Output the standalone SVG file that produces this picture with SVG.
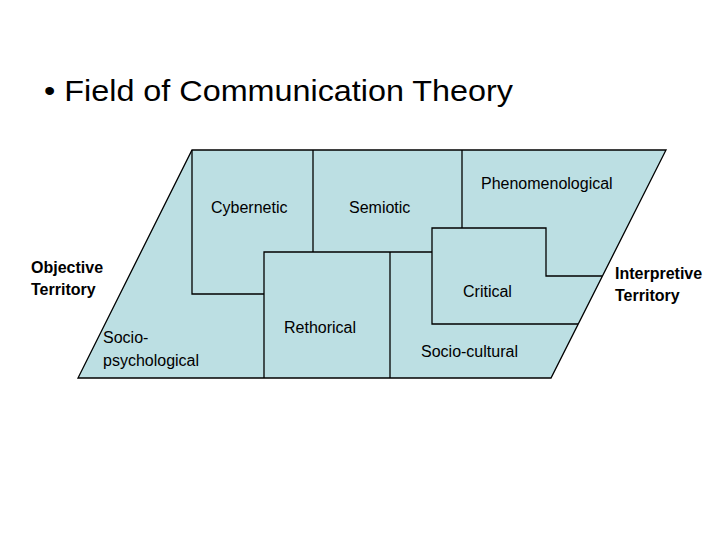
<svg xmlns="http://www.w3.org/2000/svg" width="720" height="540" viewBox="0 0 720 540">
<style>
text{font-family:"Liberation Sans",Arial,sans-serif;fill:#000}
.l{font-size:16px}
.b{font-size:16px;font-weight:bold}
.ln{stroke:#000;stroke-width:1.3;fill:none}
</style>
<rect width="720" height="540" fill="#fff"/>
<text x="44" y="101" style="font-size:30px" textLength="469" lengthAdjust="spacingAndGlyphs">• Field of Communication Theory</text>
<g id="field">
<polygon points="192,150 666,150 551,378 78,378" fill="#bcdfe3" stroke="#000" stroke-width="1.3"/>
</g>
<g id="connectors" class="ln">
<polyline points="192,150 192,294 264,294"/>
<line x1="313" y1="150" x2="313" y2="252"/>
<polyline points="264,378 264,252 432,252"/>
<line x1="390" y1="252" x2="390" y2="378"/>
<line x1="462" y1="150" x2="462" y2="228"/>
<polyline points="602,276 546,276 546,228 432,228 432,324 578,324"/>
</g>
<g id="cybernetic"><text class="l" x="211" y="213">Cybernetic</text></g>
<g id="semiotic"><text class="l" x="349" y="213">Semiotic</text></g>
<g id="phenomenological"><text class="l" x="481" y="189">Phenomenological</text></g>
<g id="critical"><text class="l" x="463" y="297">Critical</text></g>
<g id="rethorical"><text class="l" x="284" y="333">Rethorical</text></g>
<g id="sociocultural"><text class="l" x="421" y="357">Socio-cultural</text></g>
<g id="sociopsych"><text class="l" x="103" y="343">Socio-</text><text class="l" x="103" y="366">psychological</text></g>
<g id="objective"><text class="b" x="31" y="273">Objective</text><text class="b" x="31" y="295">Territory</text></g>
<g id="interpretive"><text class="b" x="615" y="279">Interpretive</text><text class="b" x="615" y="301">Territory</text></g>
</svg>
